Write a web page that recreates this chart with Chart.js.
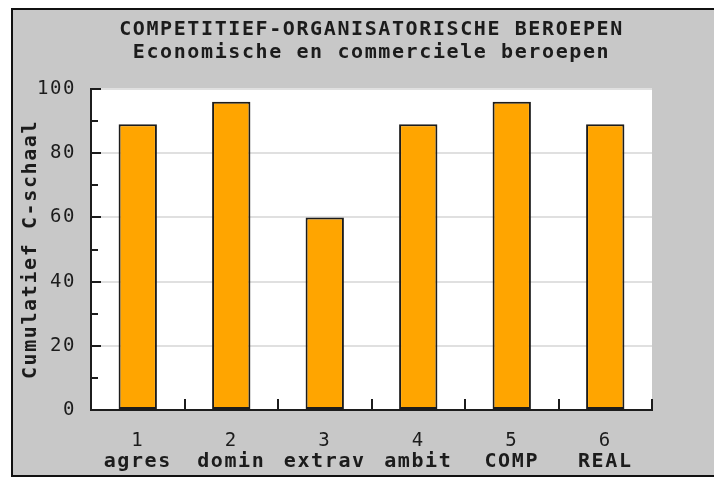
<!DOCTYPE html>
<html>
<head>
<meta charset="utf-8">
<script src="https://cdn.jsdelivr.net/npm/chart.js@4/dist/chart.umd.min.js"></script>
<style>
  html, body { margin: 0; padding: 0; background: #ffffff; }
  canvas { display: block; }
</style>
</head>
<body>
<canvas id="c" width="714" height="479"></canvas>
<script>
// ---- data ----
const titleLines = ["COMPETITIEF-ORGANISATORISCHE BEROEPEN", "Economische en commerciele beroepen"];
const categoryNumbers = ["1", "2", "3", "4", "5", "6"];
const categoryNames = ["agres", "domin", "extrav", "ambit", "COMP", "REAL"];
const values = [89, 96, 60, 89, 96, 89];
const yAxisTitle = "Cumulatief C-schaal";
const yMin = 0, yMax = 100, yStep = 20;

const MONO = '"DejaVu Sans Mono", "Liberation Mono", monospace';
const INK = '#1c1c1c';

const framePlugin = {
  id: 'frame',
  beforeInit(chart) { chart.ctx.letterSpacing = '1.6px'; },
  beforeUpdate(chart) { chart.ctx.letterSpacing = '1.6px'; },
  beforeDraw(chart) {
    const ctx = chart.ctx;
    const W = chart.width, H = chart.height;
    ctx.save();
    ctx.fillStyle = '#ffffff';
    ctx.fillRect(0, 0, W, H);
    ctx.fillStyle = '#c8c8c8';
    ctx.fillRect(11, 8, W - 11, 469);
    ctx.fillStyle = '#111111';
    ctx.fillRect(11, 8, W - 11, 2);
    ctx.fillRect(11, 8, 2, 469);
    ctx.fillRect(11, 475, W - 11, 2);
    const a = chart.chartArea;
    ctx.fillStyle = '#ffffff';
    ctx.fillRect(a.left, a.top, a.right - a.left, a.bottom - a.top);
    ctx.restore();
    ctx.letterSpacing = '1.6px';
  },
  afterDraw(chart) {
    const ctx = chart.ctx;
    const y = chart.scales.y, x = chart.scales.x;
    const a = chart.chartArea;
    ctx.save();
    ctx.strokeStyle = INK;
    ctx.lineWidth = 2;
    ctx.beginPath();
    const ticks = y.ticks.map(t => t.value);
    for (let i = 0; i < ticks.length; i++) {
      const py = Math.round(y.getPixelForValue(ticks[i]));
      ctx.moveTo(a.left, py); ctx.lineTo(a.left + 10, py);
      if (i < ticks.length - 1) {
        const my = Math.round(y.getPixelForValue((ticks[i] + ticks[i + 1]) / 2));
        ctx.moveTo(a.left, my); ctx.lineTo(a.left + 7, my);
      }
    }
    for (let i = 0; i < categoryNumbers.length; i++) {
      const px = Math.round(x.getPixelForValue(i + 0.5));
      ctx.moveTo(px, a.bottom); ctx.lineTo(px, a.bottom - 11);
    }
    ctx.stroke();
    ctx.restore();
  }
};

new Chart(document.getElementById('c'), {
  type: 'bar',
  data: {
    labels: categoryNumbers,
    datasets: [{
      data: values,
      backgroundColor: '#ffa500',
      borderColor: '#1c1c1c',
      borderWidth: 2,
      borderSkipped: false,
      barPercentage: 0.41,
      categoryPercentage: 1.0,
      xAxisID: 'x',
      yAxisID: 'y'
    }]
  },
  options: {
    responsive: false,
    animation: false,
    layout: { padding: { left: 12, right: 62, top: 9, bottom: 4 } },
    plugins: {
      legend: { display: false },
      tooltip: { enabled: false },
      title: {
        display: true,
        text: titleLines,
        fullSize: false,
        color: INK,
        font: { family: MONO, size: 20, weight: 'bold', lineHeight: 1.15 },
        padding: { top: 9, bottom: 25 }
      }
    },
    scales: {
      x: {
        type: 'category',
        position: 'bottom',
        weight: 0,
        offset: true,
        grid: { display: false, drawTicks: false },
        border: { display: true, color: INK, width: 2 },
        ticks: { color: INK, padding: 20, font: { family: MONO, size: 19 }, maxRotation: 0, autoSkip: false },
        afterFit(s) { s.height = 40; }
      },
      x2: {
        type: 'category',
        position: 'bottom',
        weight: 1,
        offset: true,
        labels: categoryNames,
        grid: { display: false, drawTicks: false },
        border: { display: false },
        ticks: { color: INK, padding: 0, font: { family: MONO, size: 20, weight: 'bold' }, maxRotation: 0, autoSkip: false },
        afterFit(s) { s.height = 25; }
      },
      y: {
        min: yMin,
        max: yMax,
        position: 'left',
        grid: { color: '#e0e0e0', lineWidth: 2, drawTicks: false },
        border: { display: true, color: INK, width: 2 },
        ticks: { stepSize: yStep, color: INK, padding: 15, font: { family: MONO, size: 19 } },
        title: {
          display: true,
          text: yAxisTitle,
          color: INK,
          font: { family: MONO, size: 20, weight: 'bold', lineHeight: 1.2 },
          padding: { top: 7, bottom: 0 }
        },
        afterFit(s) { s.width = 79; }
      }
    }
  },
  plugins: [framePlugin]
});
</script>
</body>
</html>
